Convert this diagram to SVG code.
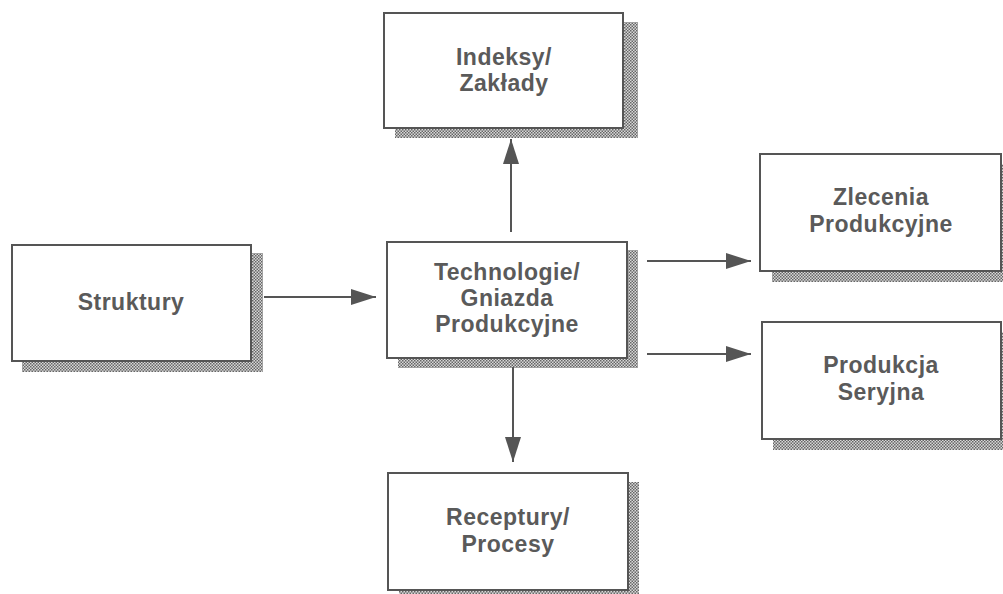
<svg xmlns="http://www.w3.org/2000/svg" width="1003" height="594" viewBox="0 0 1003 594">
<defs>
<pattern id="dots" width="3" height="3" patternUnits="userSpaceOnUse">
<rect width="3" height="3" fill="#d8d8d8"/>
<rect width="1.5" height="1.5" fill="#666"/>
<rect x="1.5" y="1.5" width="1.5" height="1.5" fill="#666"/>
</pattern>
<marker id="arr" markerWidth="25" markerHeight="16" refX="25" refY="8" orient="auto" markerUnits="userSpaceOnUse">
<path d="M0,0 L25,8 L0,16 Z" fill="#555"/>
</marker>
<style>
.shadow{fill:url(#dots)}
.box{fill:#fff;stroke:#555;stroke-width:2}
.lbl{font-family:"Liberation Sans",Arial,sans-serif;font-weight:bold;font-size:23px;letter-spacing:0.5px;fill:#5a5a5a;text-anchor:middle}
.conn{stroke:#555;stroke-width:2;fill:none;marker-end:url(#arr)}
</style>
</defs>
<rect width="1003" height="594" fill="#fff"/>
<g id="node-indeksy">
<rect class="shadow" x="395" y="22" width="243" height="116"/>
<rect class="box" x="384" y="13" width="239" height="115"/>
<text class="lbl" x="504" y="65">Indeksy/</text>
<text class="lbl" x="504" y="91">Zakłady</text>
</g>
<g id="node-struktury">
<rect class="shadow" x="22" y="253" width="241" height="119"/>
<rect class="box" x="12" y="245" width="239" height="116"/>
<text class="lbl" x="131" y="310">Struktury</text>
</g>
<g id="node-technologie">
<rect class="shadow" x="398" y="250" width="240" height="118"/>
<rect class="box" x="387" y="242" width="240" height="116"/>
<text class="lbl" x="507" y="280">Technologie/</text>
<text class="lbl" x="507" y="306">Gniazda</text>
<text class="lbl" x="507" y="332">Produkcyjne</text>
</g>
<g id="node-zlecenia">
<rect class="shadow" x="772" y="164" width="240" height="118"/>
<rect class="box" x="760" y="154" width="241" height="117"/>
<text class="lbl" x="881" y="205">Zlecenia</text>
<text class="lbl" x="881" y="232">Produkcyjne</text>
</g>
<g id="node-produkcja">
<rect class="shadow" x="773" y="332" width="240" height="118"/>
<rect class="box" x="762" y="322" width="239" height="117"/>
<text class="lbl" x="881" y="373">Produkcja</text>
<text class="lbl" x="881" y="400">Seryjna</text>
</g>
<g id="node-receptury">
<rect class="shadow" x="399" y="482" width="240" height="118"/>
<rect class="box" x="388" y="473" width="240" height="117"/>
<text class="lbl" x="508" y="525">Receptury/</text>
<text class="lbl" x="508" y="552">Procesy</text>
</g>
<g id="connectors">
<line class="conn" x1="511" y1="232" x2="511" y2="139"/>
<line class="conn" x1="264" y1="297" x2="376" y2="297"/>
<line class="conn" x1="647" y1="261" x2="751" y2="261"/>
<line class="conn" x1="647" y1="354" x2="751" y2="354"/>
<line class="conn" x1="513" y1="367" x2="513" y2="462"/>
</g>
</svg>
